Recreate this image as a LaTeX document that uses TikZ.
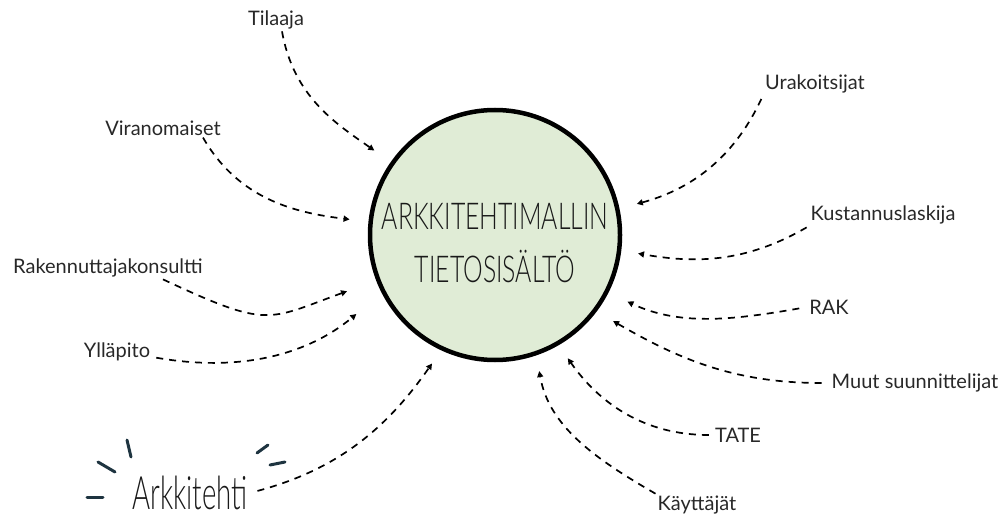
\documentclass[tikz,border=0pt]{standalone}
\usepackage{fontspec}
\setmainfont{Lato}
\newfontfamily\ohut{Lato}[UprightFont=* Light]
\usepackage{tikz}
\usetikzlibrary{calc,arrows.meta}
\definecolor{ympyra}{RGB}{224,236,214}
\definecolor{teksti}{RGB}{40,40,40}
\definecolor{otsikkov}{RGB}{25,25,25}
\definecolor{sivellin}{RGB}{30,52,64}

\begin{document}
\begin{tikzpicture}[x=1pt,y=1pt,
    lbl/.style={font=\fontsize{20}{24}\selectfont,text=teksti,inner sep=2pt},
    nuoli/.style={line width=1.7pt,dash pattern=on 7pt off 6pt,->,>={Triangle[length=6pt,width=6pt]}},
    veto/.style={line width=3pt,line cap=round,sivellin}]
       \useasboundingbox(0,0)rectangle(1006,520);%枠

       \node[circle,draw,line width=4.5pt,fill=ympyra,minimum size=250pt,inner sep=0pt](c)at(495,285){};%中心の円
       \node[text=otsikkov,align=center,font=\ohut\fontsize{37}{53}\selectfont](otsikko)at([yshift=-8pt]c.center)
           {\scalebox{0.67}[1]{ARKKITEHTIMALLIN}\\\scalebox{0.67}[1]{TIETOSISÄLTÖ}};%円の文字

       \node[lbl](tilaaja)at(276,500){Tilaaja};
       \node[lbl](viranomaiset)at(163,392){Viranomaiset};
       \node[lbl](rakennuttaja)at(108,252){Rakennuttajakonsultti};
       \node[lbl](yllapito)at(117,168){Ylläpito};
       \node[text=otsikkov,font=\ohut\fontsize{46}{46}\selectfont,inner sep=2pt](arkkitehti)at(190,27){\scalebox{0.6}[1]{Arkkitehti}};
       \node[lbl](kayttajat)at(697,15){Käyttäjät};
       \node[lbl](tate)at(738,85){TATE};
       \node[lbl](muut)at(915,137){Muut suunnittelijat};
       \node[lbl](rak)at(829,213){RAK};
       \node[lbl](kustannus)at(883,305){Kustannuslaskija};
       \node[lbl](urakoitsijat)at(815,436){Urakoitsijat};

       %矢印 左側
       \draw[nuoli,shorten >=20pt]([xshift=6pt]tilaaja.south)to[out=-80,in=145](c.145);
       \draw[nuoli,shorten >=19pt]([xshift=40pt]viranomaiset.south)to[out=-60,in=173](c.174);
       \draw[nuoli,shorten >=31pt,looseness=1.4]([xshift=55pt]rakennuttaja.south)to[out=-25,in=200](c.201);
       \draw[nuoli,shorten <=4pt,shorten >=33pt]([yshift=-5pt]yllapito.east)to[out=-10,in=220](c.207);
       \draw[nuoli,shorten <=8pt,shorten >=16pt](arkkitehti.east)to[out=15,in=235](c.245);

       %矢印 右側
       \draw[nuoli,shorten >=16pt](kayttajat.north west)to[out=150,in=280](c.289);
       \draw[nuoli,shorten <=4pt,shorten >=16pt](tate.west)to[out=180,in=305](c.300);
       \draw[nuoli,shorten <=8pt,shorten >=19pt](muut.west)to[out=180,in=330](c.323);
       \draw[nuoli,shorten <=8pt,shorten >=21pt](rak.west)to[out=190,in=335](c.333);
       \draw[nuoli,shorten <=2pt,shorten >=17pt](kustannus.south west)to[out=210,in=350](c.353);
       \draw[nuoli,shorten <=4pt,shorten >=18pt](urakoitsijat.south west)to[out=245,in=15](c.12);

       %筆のしるし
       \draw[veto](87,23)--(103,23);
       \draw[veto](98,58)--(115,48);
       \draw[veto](127,80)--(131,63);
       \draw[veto](257,67)--(268,75);
       \draw[veto](270,55)--(285,58);
      \end{tikzpicture}
\end{document}
